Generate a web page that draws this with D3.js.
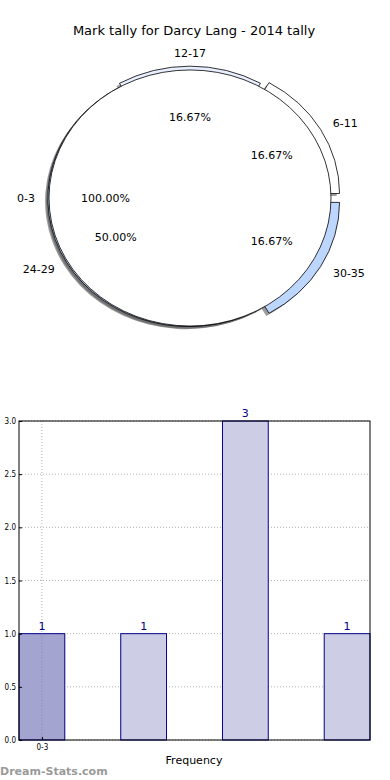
<!DOCTYPE html>
<html>
<head>
<meta charset="utf-8">
<script src="https://cdn.jsdelivr.net/npm/d3@7"></script>
<style>
  body { margin: 0; background: #fff; }
  svg { display: block; font-family: "DejaVu Sans", sans-serif; }
</style>
</head>
<body>
<svg id="chart" width="390" height="780"></svg>
<script>
// datos del gráfico
const titulo = "Mark tally for Darcy Lang - 2014 tally";
const pieLabels = ["0-3", "6-11", "12-17", "24-29", "30-35"];
const piePct = [100, 16.67, 16.67, 50, 16.67];
const barLabels = ["0-3"];
const barValues = [1, 1, 3, 1];
const yTicks = [0, 0.5, 1, 1.5, 2, 2.5, 3];

// estilo de la torta
const pieColors = ["#ffffff", "#ffffff", "#e8efff", "#bcd6fd", "#bcd6fd"];
const explode = [0, 0.07, 0.03, 0.008, 0.07];

const svg = d3.select("#chart");

svg.append("text")
    .attr("x", 194).attr("y", 35)
    .attr("text-anchor", "middle")
    .attr("font-size", 13)
    .text(titulo);

// ---- Torta (elíptica, como en matplotlib sin aspect igual)
const cx = 190, cy = 198, rx = 141, ry = 128;
const toRad = d => d * Math.PI / 180;

let acum = 0;
const cuñas = piePct.map((p, i) => {
    const a0 = acum * 3.6, a1 = (acum + p) * 3.6;
    acum += p;
    const mid = toRad((a0 + a1) / 2);
    return {
        i, label: pieLabels[i], pct: p,
        a0: toRad(a0), a1: toRad(a1), mid,
        dx: explode[i] * rx * Math.cos(mid),
        dy: -explode[i] * ry * Math.sin(mid)
    };
});

const arc = d3.arc().innerRadius(0).outerRadius(rx);
const pathDe = d => arc({ startAngle: Math.PI / 2 - d.a1, endAngle: Math.PI / 2 - d.a0 });

const pie = svg.append("g");

// sombras primero
pie.selectAll(".sombra")
    .data(cuñas)
  .join("path")
    .attr("class", "sombra")
    .attr("transform", d => `translate(${cx + d.dx - 2.8}, ${cy + d.dy + 2.6}) scale(1, ${ry / rx})`)
    .attr("d", pathDe)
    .attr("fill", "#4d4d4d")
    .attr("fill-opacity", 0.55);

// cuñas explotadas y al final la de 100%
const orden = cuñas.slice(1).concat([cuñas[0]]);
pie.selectAll(".cuña")
    .data(orden)
  .join("path")
    .attr("class", "cuña")
    .attr("transform", d => `translate(${cx + d.dx}, ${cy + d.dy}) scale(1, ${ry / rx})`)
    .attr("d", pathDe)
    .attr("fill", d => pieColors[d.i])
    .attr("stroke", "#000")
    .attr("stroke-width", 0.8)
    .attr("vector-effect", "non-scaling-stroke");

// etiquetas
pie.selectAll(".etq")
    .data(cuñas)
  .join("text")
    .attr("x", d => cx + d.dx + 1.1 * rx * Math.cos(d.mid))
    .attr("y", d => cy + d.dy - 1.1 * ry * Math.sin(d.mid))
    .attr("dy", "0.35em")
    .attr("font-size", 11)
    .attr("text-anchor", d => Math.abs(Math.cos(d.mid)) < 0.01 ? "middle" : (Math.cos(d.mid) > 0 ? "start" : "end"))
    .text(d => d.label);

pie.selectAll(".pct")
    .data(cuñas)
  .join("text")
    .attr("x", d => cx + d.dx + 0.6 * rx * Math.cos(d.mid))
    .attr("y", d => cy + d.dy - 0.6 * ry * Math.sin(d.mid))
    .attr("dy", "0.35em")
    .attr("font-size", 11)
    .attr("text-anchor", "middle")
    .text(d => d.pct.toFixed(2) + "%");

// ---- Barras
const ancho = 0.45;
const x = d3.scaleLinear().domain([0, barValues.length - 1 + ancho]).range([19, 370]);
const y = d3.scaleLinear().domain([0, 3]).range([740, 421]);

const barras = svg.append("g");

// grilla
barras.selectAll(".gy")
    .data(yTicks)
  .join("line")
    .attr("x1", 19).attr("x2", 370)
    .attr("y1", d => y(d)).attr("y2", d => y(d))
    .attr("stroke", "#b0b0b0")
    .attr("stroke-dasharray", "1,2");

barras.selectAll(".gx")
    .data(barLabels)
  .join("line")
    .attr("x1", (d, i) => x(i + ancho / 2)).attr("x2", (d, i) => x(i + ancho / 2))
    .attr("y1", 421).attr("y2", 740)
    .attr("stroke", "#b0b0b0")
    .attr("stroke-dasharray", "1,2");

barras.selectAll(".bar")
    .data(barValues)
  .join("rect")
    .attr("x", (d, i) => x(i))
    .attr("width", x(ancho) - x(0))
    .attr("y", d => y(d))
    .attr("height", d => y(0) - y(d))
    .attr("fill", (d, i) => i === 0 ? "#a4a4d1" : "#cdcde5")
    .attr("stroke", "#00008b")
    .attr("stroke-width", 1);

// la línea de grilla vertical se ve sobre la barra
barras.selectAll(".gx2")
    .data(barLabels)
  .join("line")
    .attr("x1", (d, i) => x(i + ancho / 2)).attr("x2", (d, i) => x(i + ancho / 2))
    .attr("y1", y(barValues[0])).attr("y2", 740)
    .attr("stroke", "#8080a8")
    .attr("stroke-dasharray", "1,2");

barras.selectAll(".val")
    .data(barValues)
  .join("text")
    .attr("x", (d, i) => x(i + ancho / 2))
    .attr("y", d => y(d) - 4)
    .attr("text-anchor", "middle")
    .attr("font-size", 11)
    .attr("fill", "#00008b")
    .text(d => d);

// marco de ejes
barras.append("rect")
    .attr("x", 19).attr("y", 421)
    .attr("width", 351).attr("height", 319)
    .attr("fill", "none")
    .attr("stroke", "#000")
    .attr("stroke-width", 1);

const ejeY = barras.append("g")
    .attr("transform", "translate(19,0)")
    .call(d3.axisLeft(y).tickValues(yTicks).tickFormat(d3.format(".1f")).tickSizeInner(-3).tickSizeOuter(0).tickPadding(3));
ejeY.select(".domain").remove();
ejeY.selectAll("text").attr("font-size", 8).attr("font-family", "DejaVu Sans Condensed, DejaVu Sans").attr("fill", "#000");

const ejeX = barras.append("g")
    .attr("transform", "translate(0,740)")
    .call(d3.axisBottom(x).tickValues(barLabels.map((d, i) => i + ancho / 2)).tickFormat((d, i) => barLabels[i]).tickSizeInner(-3).tickSizeOuter(0).tickPadding(4));
ejeX.select(".domain").remove();
ejeX.selectAll("text").attr("font-size", 8).attr("font-family", "DejaVu Sans Condensed, DejaVu Sans").attr("fill", "#000");

svg.append("text")
    .attr("x", 194).attr("y", 764)
    .attr("text-anchor", "middle")
    .attr("font-size", 11)
    .text("Frequency");

svg.append("text")
    .attr("x", 0).attr("y", 775)
    .attr("font-size", 11)
    .attr("font-weight", "bold")
    .attr("fill", "#9a9a9a")
    .text("Dream-Stats.com");
</script>
</body>
</html>
